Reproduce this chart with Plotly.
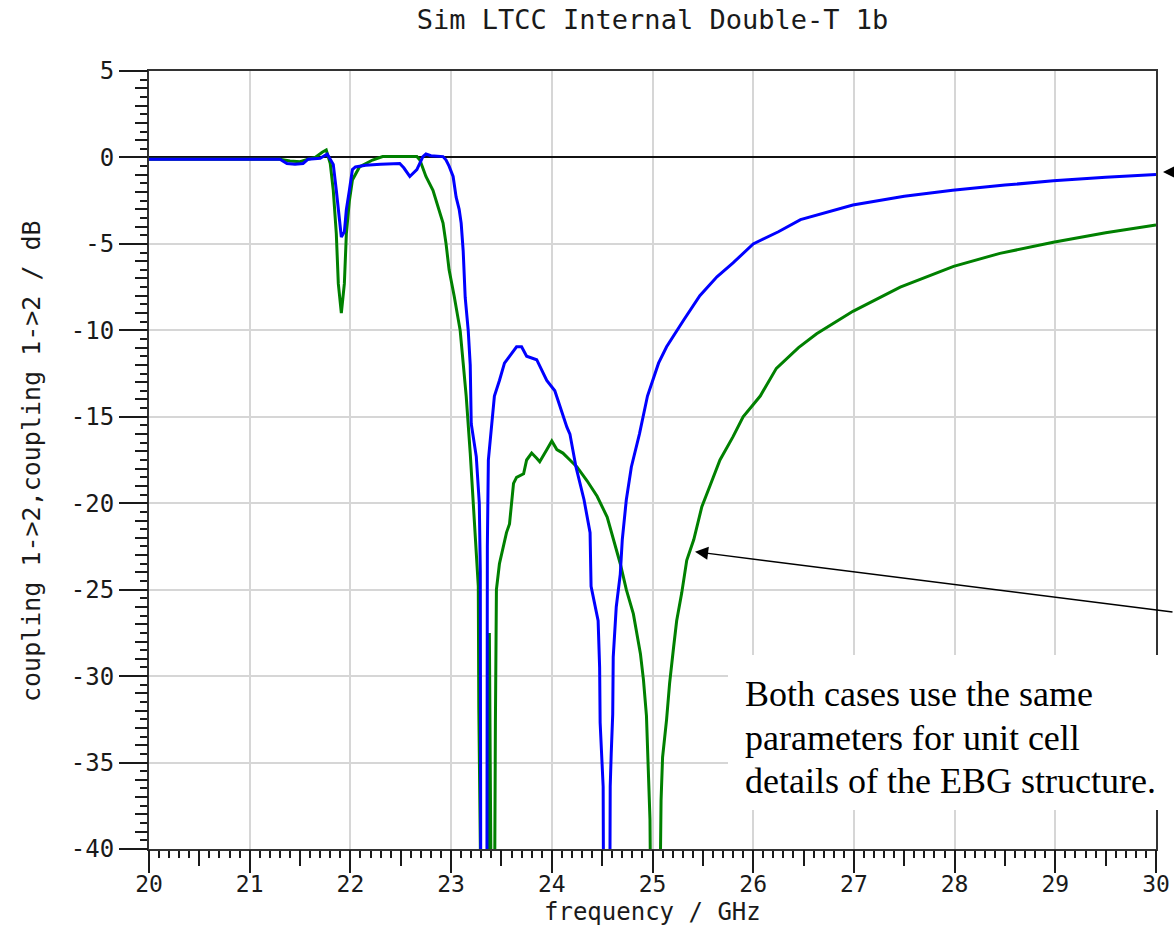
import plotly.graph_objects as go

# ---------------- data ----------------
blue_freq = [20.00, 20.50, 21.00, 21.30, 21.37, 21.45, 21.53, 21.58, 21.70, 21.77, 21.80, 21.83,
             21.86, 21.89, 21.91, 21.94, 21.96, 21.99, 22.02, 22.05, 22.15, 22.30, 22.49, 22.53,
             22.59, 22.66, 22.72, 22.75, 22.80, 22.92, 22.95, 22.98, 23.02, 23.05, 23.08, 23.10,
             23.12, 23.14, 23.17, 23.19, 23.20, 23.25, 23.28, 23.29, 23.295, 23.355, 23.36, 23.37,
             23.40, 23.43, 23.48, 23.53, 23.58, 23.65, 23.70, 23.75, 23.85, 23.95, 24.03, 24.08,
             24.15, 24.18, 24.24, 24.32, 24.38, 24.39, 24.46, 24.475, 24.48, 24.51, 24.515, 24.575,
             24.58, 24.59, 24.605, 24.61, 24.64, 24.68, 24.70, 24.74, 24.79, 24.87, 24.95, 25.06,
             25.14, 25.31, 25.47, 25.64, 25.80, 26.00, 26.25, 26.47, 26.99, 27.50, 27.98, 28.50,
             28.98, 29.50, 30.00]
blue_db = [-0.10, -0.10, -0.10, -0.10, -0.35, -0.40, -0.35, -0.10, -0.05, 0.20, -0.10, -0.40,
           -1.9, -3.8, -4.6, -4.3, -3.0, -1.9, -0.7, -0.55, -0.45, -0.40, -0.35, -0.6,
           -1.1, -0.7, 0.05, 0.20, 0.10, 0.05, -0.15, -0.5, -1.1, -2.3, -3.0, -3.8,
           -5.4, -8.1, -10.0, -12.0, -15.4, -17.3, -20.0, -23.9, -45.0, -45.0, -22.5, -17.5,
           -15.4, -13.8, -12.9, -11.9, -11.5, -10.95, -10.95, -11.5, -11.7, -12.9, -13.5, -14.4,
           -15.6, -16.0, -17.9, -19.8, -21.7, -24.8, -26.8, -29.5, -32.7, -36.4, -45.0, -45.0,
           -36.4, -34.5, -32.2, -28.9, -26.0, -24.1, -22.1, -19.8, -17.9, -16.0, -13.8, -11.9,
           -10.95, -9.4, -8.0, -6.9, -6.1, -5.0, -4.3, -3.6, -2.75, -2.25, -1.9, -1.6,
           -1.35, -1.15, -0.98]

green_freq = [20.00, 21.30, 21.40, 21.50, 21.58, 21.65, 21.72, 21.76, 21.80, 21.83, 21.86, 21.88,
              21.91, 21.94, 21.96, 21.99, 22.02, 22.09, 22.22, 22.32, 22.50, 22.66, 22.69, 22.75,
              22.82, 22.87, 22.92, 22.95, 22.98, 23.03, 23.09, 23.12, 23.15, 23.19, 23.22, 23.25,
              23.27, 23.275, 23.30, 23.37, 23.38, 23.40, 23.43, 23.44, 23.45, 23.48, 23.50, 23.55,
              23.58, 23.62, 23.65, 23.72, 23.75, 23.80, 23.85, 23.88, 23.95, 24.00, 24.05, 24.11,
              24.18, 24.25, 24.35, 24.45, 24.55, 24.61, 24.68, 24.74, 24.81, 24.88, 24.91, 24.94,
              24.96, 24.975, 24.985, 25.07, 25.085, 25.10, 25.14, 25.17, 25.21, 25.24, 25.29, 25.34,
              25.41, 25.49, 25.57, 25.67, 25.80, 25.90, 26.07, 26.23, 26.45, 26.63, 26.99, 27.46,
              27.99, 28.45, 28.98, 29.50, 30.00]
green_db = [-0.10, -0.10, -0.20, -0.25, -0.10, 0.00, 0.30, 0.43, -0.35, -1.9, -4.4, -7.3,
            -9.0, -7.3, -4.4, -2.5, -1.3, -0.55, -0.15, 0.05, 0.05, 0.05, -0.15, -1.1,
            -1.9, -2.8, -3.8, -5.0, -6.5, -8.0, -10.0, -11.9, -13.8, -17.1, -19.8, -22.5,
            -24.8, -31.8, -45.0, -45.0, -27.5, -45.0, -45.0, -32.7, -25.0, -23.5, -23.0, -21.7,
            -21.2, -18.85, -18.5, -18.3, -17.5, -17.1, -17.4, -17.6, -16.9, -16.4, -16.9, -17.1,
            -17.5, -17.9, -18.7, -19.6, -20.8, -22.1, -23.5, -25.0, -26.4, -28.7, -30.2, -32.3,
            -35.4, -38.3, -45.0, -45.0, -37.2, -34.7, -32.5, -30.4, -28.3, -26.8, -25.2, -23.3,
            -22.1, -20.2, -19.0, -17.5, -16.15, -15.0, -13.8, -12.2, -11.0, -10.2, -8.9, -7.5,
            -6.3, -5.55, -4.9, -4.35, -3.9]

x_tick_vals = list(range(20, 31))
x_tick_text = [str(v) for v in x_tick_vals]
y_tick_vals = [5, 0, -5, -10, -15, -20, -25, -30, -35, -40]
y_tick_text = [str(v) for v in y_tick_vals]

title_text = "Sim LTCC Internal Double-T 1b"
x_title = "frequency / GHz"
y_title = "coupling 1->2,coupling 1->2 / dB"
note_lines = ["Both cases use the same",
              "parameters for unit cell",
              "details of the EBG structure."]

# ---------------- figure ----------------
W, H = 1174, 925
L, R, T, B = 149, 18, 71, 76
PW, PH = W - L - R, H - T - B

def px_x(px):
    return (px - L) / PW

def px_y(py):
    return (H - B - py) / PH

MONO = "DejaVu Sans Mono"
INK = "#1a1a1a"

fig = go.Figure()
fig.add_trace(go.Scatter(x=green_freq, y=green_db, mode="lines",
                         line=dict(color="#008000", width=3), showlegend=False))
fig.add_trace(go.Scatter(x=blue_freq, y=blue_db, mode="lines",
                         line=dict(color="#0000ff", width=3), showlegend=False))
# empty helper traces so the overlaid tick-only axes get drawn
fig.add_trace(go.Scatter(x=[], y=[], xaxis="x2", yaxis="y2", showlegend=False))
fig.add_trace(go.Scatter(x=[], y=[], xaxis="x3", yaxis="y", showlegend=False))

tick_only = dict(showticklabels=False, showgrid=False, showline=False, zeroline=False,
                 automargin=False, tickcolor=INK)

fig.update_layout(
    width=W, height=H,
    margin=dict(l=L, r=R, t=T, b=B),
    paper_bgcolor="white", plot_bgcolor="white",
    showlegend=False,
    title=dict(text=title_text, x=652.5 / W, xanchor="center",
               y=1 - 20 / H, yanchor="middle", yref="container",
               font=dict(family=MONO, size=27, color=INK)),
    xaxis=dict(range=[20, 30], tickmode="array", tickvals=x_tick_vals, ticktext=x_tick_text,
               ticks="outside", ticklen=13, tickwidth=2, tickcolor=INK,
               tickfont=dict(family=MONO, size=23, color=INK),
               showgrid=True, gridcolor="#d6d6d6", gridwidth=2,
               showline=True, linecolor="#333333", linewidth=2, mirror=True,
               zeroline=False, automargin=False,
               minor=dict(dtick=0.1, ticks="outside", ticklen=7, tickwidth=1.5,
                          tickcolor=INK, showgrid=False)),
    yaxis=dict(range=[-40, 5], tickmode="array", tickvals=y_tick_vals, ticktext=y_tick_text,
               ticks="outside", ticklen=28, tickwidth=2, tickcolor=INK,
               tickfont=dict(family=MONO, size=24, color=INK),
               showgrid=True, gridcolor="#d6d6d6", gridwidth=2,
               showline=True, linecolor="#333333", linewidth=2, mirror=True,
               zeroline=True, zerolinecolor="#111111", zerolinewidth=2, automargin=False,
               minor=dict(dtick=0.5, ticks="outside", ticklen=7, tickwidth=1.5,
                          tickcolor=INK, showgrid=False)),
    xaxis2=dict(range=[20, 30], overlaying="x", anchor="y", side="bottom",
                dtick=0.5, tick0=20, ticks="outside", ticklen=16, tickwidth=1.5, **tick_only),
    xaxis3=dict(range=[20, 30], overlaying="x", anchor="y", side="bottom",
                dtick=1, tick0=20, ticks="outside", ticklen=23, tickwidth=2, **tick_only),
    yaxis2=dict(range=[-40, 5], overlaying="y", anchor="x", side="left",
                dtick=1, tick0=0, ticks="outside", ticklen=13, tickwidth=1.5, **tick_only),
)

# white box behind the note text
fig.add_shape(type="rect", xref="paper", yref="paper",
              x0=px_x(728), x1=px_x(1190), y0=px_y(810), y1=px_y(655),
              fillcolor="white", line=dict(width=0), layer="above")

annotations = []
# axis titles
annotations.append(dict(text=x_title, xref="paper", yref="paper",
                        x=px_x(652.5), y=px_y(912), xanchor="center", yanchor="middle",
                        showarrow=False, font=dict(family=MONO, size=24, color=INK)))
annotations.append(dict(text=y_title, xref="paper", yref="paper", textangle=-90,
                        x=px_x(32), y=px_y(461), xanchor="center", yanchor="middle",
                        showarrow=False, font=dict(family=MONO, size=25, color=INK)))
# note text lines
for i, line in enumerate(note_lines):
    annotations.append(dict(text=line, xref="paper", yref="paper",
                            x=px_x(743), y=px_y(694 + 43.5 * i), xanchor="left", yanchor="middle",
                            showarrow=False,
                            font=dict(family="Liberation Serif", size=36, color="black")))
# arrows
annotations.append(dict(text="", xref="paper", yref="paper",
                        x=px_x(1163), y=px_y(172), ax=45, ay=0,
                        showarrow=True, arrowhead=2, arrowsize=1.75, arrowwidth=1.5,
                        arrowcolor="black"))
annotations.append(dict(text="", xref="paper", yref="paper",
                        x=px_x(695), y=px_y(551.7), ax=525, ay=60.6,
                        showarrow=True, arrowhead=2, arrowsize=1.75, arrowwidth=1.5,
                        arrowcolor="black"))
fig.update_layout(annotations=annotations)

fig.write_html("out.html")
